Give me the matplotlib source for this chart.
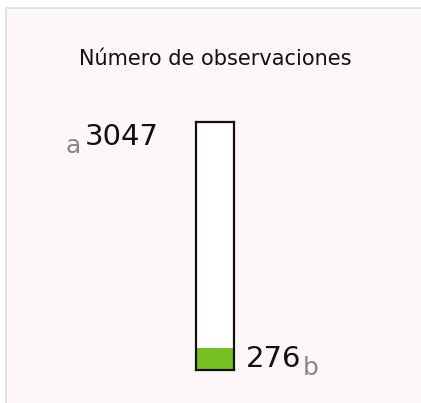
import matplotlib.pyplot as plt
from matplotlib.patches import Rectangle

# data
title = "Número de observaciones"
total = 3047
subset = 276
total_tag = "a"
subset_tag = "b"

W, H = 421, 403
plt.rcParams['font.family'] = ['DejaVu Sans']

fig = plt.figure(figsize=(W / 100, H / 100), dpi=100)
fig.patch.set_facecolor('white')

def fx(px):
    return px / W

def fy(py):
    return 1 - py / H

# panel background with grey top/left border
fig.patches.append(Rectangle((fx(5), 0), 1, fy(7), transform=fig.transFigure,
                             facecolor='#e2e2e2', edgecolor='none', zorder=0))
fig.patches.append(Rectangle((fx(7), 0), 1, fy(9), transform=fig.transFigure,
                             facecolor='#fdf8f7', edgecolor='none', zorder=0))

# bar axes
ax = fig.add_axes([fx(196), fy(370), fx(234) - fx(196), fy(122) - fy(370)])
ax.set_zorder(2)
ax.set_facecolor('white')
ax.bar([0], [subset], width=1, color='#76bf21', edgecolor='none')
ax.set_xlim(-0.5, 0.5)
ax.set_ylim(0, total)
ax.set_xticks([])
ax.set_yticks([])
for s in ax.spines.values():
    s.set_color('#111111')
    s.set_linewidth(1.6)

fig.text(fx(215), fy(65), title, ha='center', va='baseline', fontsize=15,
         color='#111111', zorder=3)

fig.text(fx(159), fy(145), f"{total}", ha='right', va='baseline', fontsize=21,
         color='#111111', zorder=3)
fig.text(fx(81), fy(153), total_tag, ha='right', va='baseline', fontsize=18,
         color='#888888', zorder=3)

fig.text(fx(246), fy(367), f"{subset}", ha='left', va='baseline', fontsize=21,
         color='#111111', zorder=3)
fig.text(fx(303), fy(375), subset_tag, ha='left', va='baseline', fontsize=18,
         color='#888888', zorder=3)

fig.savefig('out.png', dpi=100)
